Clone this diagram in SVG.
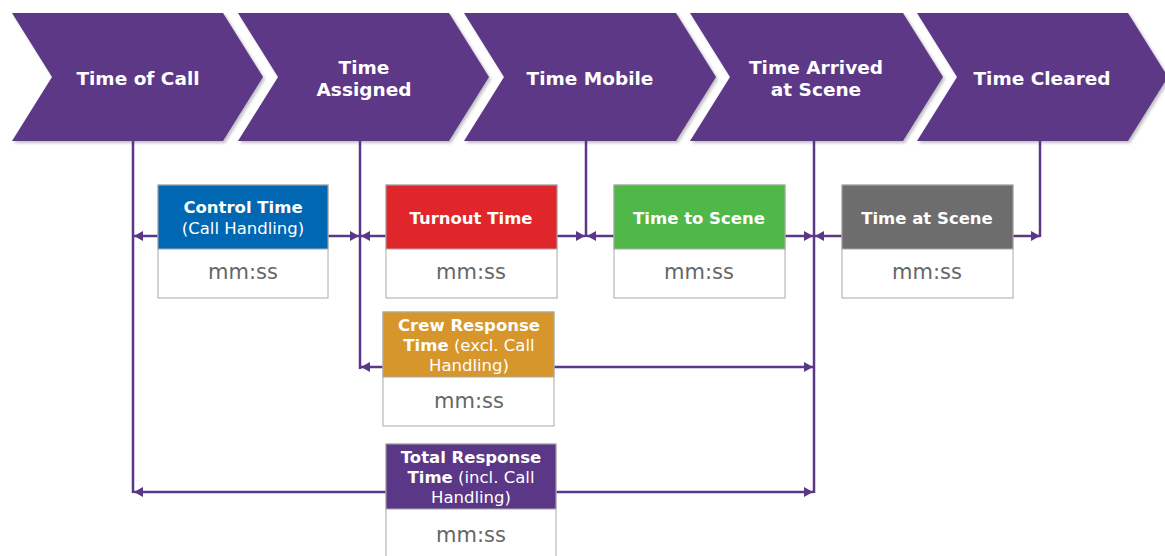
<svg xmlns="http://www.w3.org/2000/svg" width="1165" height="556" viewBox="0 0 1165 556">
<style>
.chev{fill:#5b3787;filter:url(#sh)}
.ct{font-family:"DejaVu Sans",Verdana,sans-serif;font-weight:bold;font-size:18.5px;fill:#fff;text-anchor:middle}
.ht{font-family:"DejaVu Sans",Verdana,sans-serif;font-size:16.5px;fill:#fff;text-anchor:middle}
.b{font-weight:bold}
.val{font-family:"DejaVu Sans",Verdana,sans-serif;font-size:21px;fill:#666;text-anchor:middle}
.box{fill:#fff;stroke:#aaa;stroke-width:1}
.hd{stroke:#aaa;stroke-width:1}
.ln{stroke:#5b3787;stroke-width:2.5;fill:none}
.ar{stroke:#5b3787;stroke-width:2.5;fill:none;marker-end:url(#ah)}
</style>
<defs>
<filter id="sh" x="-5%" y="-5%" width="115%" height="120%">
<feDropShadow dx="2" dy="2" stdDeviation="1.5" flood-color="#000" flood-opacity="0.25"/>
</filter>
<marker id="ah" markerUnits="userSpaceOnUse" markerWidth="10" markerHeight="10" refX="9" refY="5" orient="auto">
<path d="M0,0 L9,5 L0,10 z" fill="#5b3787"/>
</marker>
</defs>
<rect width="1165" height="556" fill="#fff"/>

<g id="chevrons">
<g id="c-call"><polygon class="chev" points="12,13 223,13 263,77 223,141 12,141 52,77"/><text class="ct" x="138" y="85">Time of Call</text></g>
<g id="c-assigned"><polygon class="chev" points="238,13 449,13 489,77 449,141 238,141 278,77"/><text class="ct" x="364" y="74">Time</text><text class="ct" x="364" y="96">Assigned</text></g>
<g id="c-mobile"><polygon class="chev" points="464,13 676,13 716,77 676,141 464,141 504,77"/><text class="ct" x="590" y="85">Time Mobile</text></g>
<g id="c-arrived"><polygon class="chev" points="690,13 903,13 943,77 903,141 690,141 730,77"/><text class="ct" x="816" y="74">Time Arrived</text><text class="ct" x="816" y="96">at Scene</text></g>
<g id="c-cleared"><polygon class="chev" points="917,13 1128,13 1168,77 1128,141 917,141 957,77"/><text class="ct" x="1042" y="85">Time Cleared</text></g>
</g>

<g id="connectors">
<line class="ln" x1="133" y1="141" x2="133" y2="493"/>
<line class="ln" x1="360" y1="141" x2="360" y2="369"/>
<line class="ln" x1="586" y1="141" x2="586" y2="237"/>
<line class="ln" x1="814" y1="141" x2="814" y2="493"/>
<line class="ln" x1="1040" y1="141" x2="1040" y2="237"/>
<line class="ar" x1="158" y1="236" x2="134" y2="236"/>
<line class="ar" x1="328" y1="236" x2="359" y2="236"/>
<line class="ar" x1="386" y1="236" x2="361" y2="236"/>
<line class="ar" x1="557" y1="236" x2="585" y2="236"/>
<line class="ar" x1="614" y1="236" x2="587" y2="236"/>
<line class="ar" x1="785" y1="236" x2="813" y2="236"/>
<line class="ar" x1="842" y1="236" x2="815" y2="236"/>
<line class="ar" x1="1013" y1="236" x2="1040" y2="236"/>
<line class="ar" x1="383" y1="367" x2="361" y2="367"/>
<line class="ar" x1="554" y1="367" x2="813" y2="367"/>
<line class="ar" x1="386" y1="492" x2="134" y2="492"/>
<line class="ar" x1="556" y1="492" x2="813" y2="492"/>
</g>

<g id="n-control">
<rect class="box" x="158" y="185" width="170" height="113"/>
<rect class="hd" x="158" y="185" width="170" height="64" fill="#0068b2"/>
<text class="ht b" x="243" y="213">Control Time</text>
<text class="ht" x="243" y="234">(Call Handling)</text>
<text class="val" x="243" y="279">mm:ss</text>
</g>
<g id="n-turnout">
<rect class="box" x="386" y="185" width="171" height="113"/>
<rect class="hd" x="386" y="185" width="171" height="64" fill="#e0262a"/>
<text class="ht b" x="471" y="224">Turnout Time</text>
<text class="val" x="471" y="279">mm:ss</text>
</g>
<g id="n-scene">
<rect class="box" x="614" y="185" width="171" height="113"/>
<rect class="hd" x="614" y="185" width="171" height="64" fill="#50b749"/>
<text class="ht b" x="699" y="224">Time to Scene</text>
<text class="val" x="699" y="279">mm:ss</text>
</g>
<g id="n-atscene">
<rect class="box" x="842" y="185" width="171" height="113"/>
<rect class="hd" x="842" y="185" width="171" height="64" fill="#6e6d6e"/>
<text class="ht b" x="927" y="224">Time at Scene</text>
<text class="val" x="927" y="279">mm:ss</text>
</g>
<g id="n-crew">
<rect class="box" x="383" y="312" width="171" height="114"/>
<rect class="hd" x="383" y="312" width="171" height="65" fill="#d6962c"/>
<text class="ht b" x="469" y="331">Crew Response</text>
<text class="ht" x="469" y="351"><tspan class="b">Time</tspan> (excl. Call</text>
<text class="ht" x="469" y="371">Handling)</text>
<text class="val" x="469" y="408">mm:ss</text>
</g>
<g id="n-total">
<rect class="box" x="386" y="444" width="170" height="120"/>
<rect class="hd" x="386" y="444" width="170" height="65" fill="#5b3787"/>
<text class="ht b" x="471" y="463">Total Response</text>
<text class="ht" x="471" y="483"><tspan class="b">Time</tspan> (incl. Call</text>
<text class="ht" x="471" y="503">Handling)</text>
<text class="val" x="471" y="542">mm:ss</text>
</g>
</svg>
